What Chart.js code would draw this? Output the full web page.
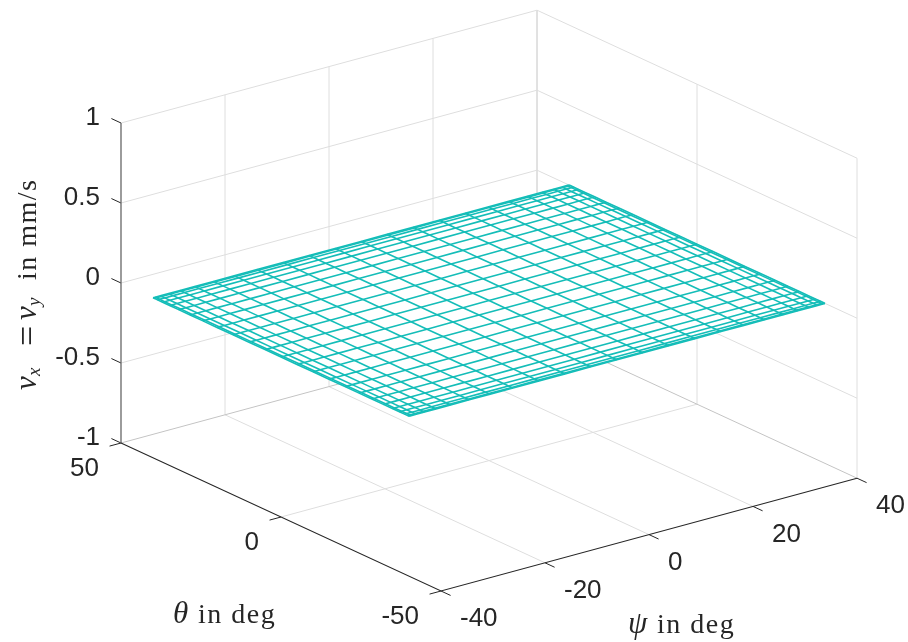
<!DOCTYPE html>
<html>
<head>
<meta charset="utf-8">
<title>v over theta and psi</title>
<script src="https://cdn.jsdelivr.net/npm/chart.js@4"></script>
<style>
html,body{margin:0;padding:0;background:#fff;}
canvas{display:block;}
</style>
</head>
<body>
<canvas id="chart" width="908" height="642"></canvas>
<script>
// axes, degrees and mm/s
const thetaTicks = [-50, 0, 50];
const psiTicks = [-40, -20, 0, 20, 40];
const vTicks = [-1, -0.5, 0, 0.5, 1];
const thetaLabels = ['-50', '0', '50'];
const psiLabels = ['-40', '-20', '0', '20', '40'];
const vLabels = ['-1', '-0.5', '0', '0.5', '1'];

// mesh nodes, even in the middle and tight at the edges
const meshTheta = [-40, -39.6, -38.6, -37, -34.8, -32, -28.4, -24.4, -20, -15, -10, -5, 0, 5, 10, 15, 20, 24.4, 28.4, 32, 34.8, 37, 38.6, 39.6, 40];
const meshPsi = [-40, -39.6, -38.6, -37, -34.8, -32, -28.4, -24.4, -20, -15, -10, -5, 0, 5, 10, 15, 20, 24.4, 28.4, 32, 34.8, 37, 38.6, 39.6, 40];
const meshV = 0; // the surface is flat at zero

const GRID = '#dedede', EDGE = '#c4c4c4', AXIS = '#262626', ZAXIS = '#666666', MESH = '#14bdb8', TEXT = '#262626';

// orthographic view of the matlab box
function project(theta, psi, v){
  return { x: 489 - 3.2*theta + 5.2*psi, y: 300.6 - 1.48*theta - 1.41*psi - 160*v };
}

const thetaMin = thetaTicks[0], thetaMax = thetaTicks[thetaTicks.length-1];
const psiMin = psiTicks[0], psiMax = psiTicks[psiTicks.length-1];
const vMin = vTicks[0], vMax = vTicks[vTicks.length-1];

function seg(points, color, width, order){
  return { data: points, showLine: true, borderColor: color, borderWidth: width, pointRadius: 0, fill: false, tension: 0, order: order, clip: false };
}

const datasets = [];

// back walls and floor
vTicks.forEach(v=>{
  const c = v===vMin ? EDGE : GRID;
  datasets.push(seg([project(thetaMax,psiMin,v), project(thetaMax,psiMax,v), project(thetaMin,psiMax,v)], c, 1, 5));
});
psiTicks.forEach(p=>{
  if(p===psiMin) return;
  datasets.push(seg([project(thetaMax,p,vMin), project(thetaMax,p,vMax)], p===psiMax ? EDGE : GRID, 1, 5));
  if(p!==psiMax) datasets.push(seg([project(thetaMax,p,vMin), project(thetaMin,p,vMin)], GRID, 1, 5));
});
thetaTicks.forEach(t=>{
  if(t===thetaMax) return;
  datasets.push(seg([project(t,psiMax,vMin), project(t,psiMax,vMax)], GRID, 1, 5));
  if(t!==thetaMin) datasets.push(seg([project(t,psiMin,vMin), project(t,psiMax,vMin)], GRID, 1, 5));
});

// white faces hide the grid behind the mesh
const last = meshTheta.length-1, lastP = meshPsi.length-1;
datasets.push({
  data: [project(meshTheta[0],meshPsi[0],meshV), project(meshTheta[0],meshPsi[lastP],meshV), project(meshTheta[last],meshPsi[lastP],meshV), project(meshTheta[last],meshPsi[0],meshV), project(meshTheta[0],meshPsi[0],meshV)],
  showLine: true, borderWidth: 0, borderColor: 'rgba(255,255,255,0)', backgroundColor: '#fff', pointRadius: 0, fill: 'shape', tension: 0, order: 3
});

// mesh lines
meshTheta.forEach(t=>{ datasets.push(seg(meshPsi.map(p=>project(t,p,meshV)), MESH, 1.6, 1)); });
meshPsi.forEach(p=>{ datasets.push(seg(meshTheta.map(t=>project(t,p,meshV)), MESH, 1.6, 1)); });

// axes and ticks
datasets.push(seg([project(thetaMax,psiMin,vMin), project(thetaMin,psiMin,vMin), project(thetaMin,psiMax,vMin)], AXIS, 1.1, 0));
datasets.push(seg([project(thetaMax,psiMin,vMin), project(thetaMax,psiMin,vMax)], ZAXIS, 1.3, 0));
vTicks.forEach(v=>{ datasets.push(seg([project(thetaMax,psiMin,v), project(thetaMax+3,psiMin,v)], AXIS, 1, 0)); });
thetaTicks.forEach(t=>{ datasets.push(seg([project(t,psiMin,vMin), project(t,psiMin-2.2,vMin)], AXIS, 1, 0)); });
psiTicks.forEach(p=>{ datasets.push(seg([project(thetaMin,p,vMin), project(thetaMin-3,p,vMin)], AXIS, 1, 0)); });

// latex style titles, each run placed by its offset from the start
function drawRuns(ctx, runs, x, y){
  runs.forEach(r=>{
    ctx.font = (r.italic ? 'italic ' : '') + (r.size||28) + 'px "Liberation Serif"';
    ctx.letterSpacing = (r.spacing||0) + 'px';
    ctx.fillText(r.text, x + r.at, y + (r.drop||0));
  });
  ctx.letterSpacing = '0px';
}

const labelPlugin = {
  id: 'labelPlugin',
  afterDraw(chart){
    const ctx = chart.ctx;
    const sx = chart.scales.x, sy = chart.scales.y;
    ctx.save();
    ctx.fillStyle = TEXT;
    ctx.font = '26px "Liberation Sans"';
    ctx.textBaseline = 'middle';

    ctx.textAlign = 'right';
    vTicks.forEach((v,i)=>{
      const q = project(thetaMax,psiMin,v);
      ctx.fillText(vLabels[i], sx.getPixelForValue(q.x)-21, sy.getPixelForValue(q.y)-5);
    });
    thetaTicks.forEach((t,i)=>{
      const q = project(t,psiMin,vMin);
      ctx.fillText(thetaLabels[i], sx.getPixelForValue(q.x)-22, sy.getPixelForValue(q.y)+26);
    });
    ctx.textAlign = 'left';
    psiTicks.forEach((p,i)=>{
      const q = project(thetaMin,p,vMin);
      ctx.fillText(psiLabels[i], sx.getPixelForValue(q.x)+19, sy.getPixelForValue(q.y)+28);
    });

    // axis titles
    ctx.textBaseline = 'alphabetic';
    drawRuns(ctx, [{text:'θ', italic:true, size:31, at:0},{text:'in deg', at:25, spacing:1.5}], 173, 623);
    drawRuns(ctx, [{text:'ψ', italic:true, size:31, at:0},{text:'in deg', at:29, spacing:1.5}], 628, 633);
    ctx.translate(36, 390);
    ctx.rotate(-Math.PI/2);
    drawRuns(ctx, [
      {text:'v', italic:true, size:31, at:0},{text:'x', italic:true, size:19, drop:4, at:14},
      {text:'=', size:36, at:44, drop:3},
      {text:'v', italic:true, size:31, at:70},{text:'y', italic:true, size:19, drop:4, at:84},
      {text:'in mm/s', at:110, spacing:1.5}
    ], 0, 0);
    ctx.restore();
  }
};

new Chart(document.getElementById('chart'), {
  type: 'scatter',
  data: { datasets: datasets },
  options: {
    responsive: false,
    animation: false,
    events: [],
    layout: { padding: 0 },
    plugins: { legend: { display: false }, tooltip: { enabled: false }, title: { display: false } },
    scales: {
      x: { type: 'linear', min: 0, max: 908, display: false },
      y: { type: 'linear', min: 0, max: 642, reverse: true, display: false }
    }
  },
  plugins: [labelPlugin]
});
</script>
</body>
</html>
